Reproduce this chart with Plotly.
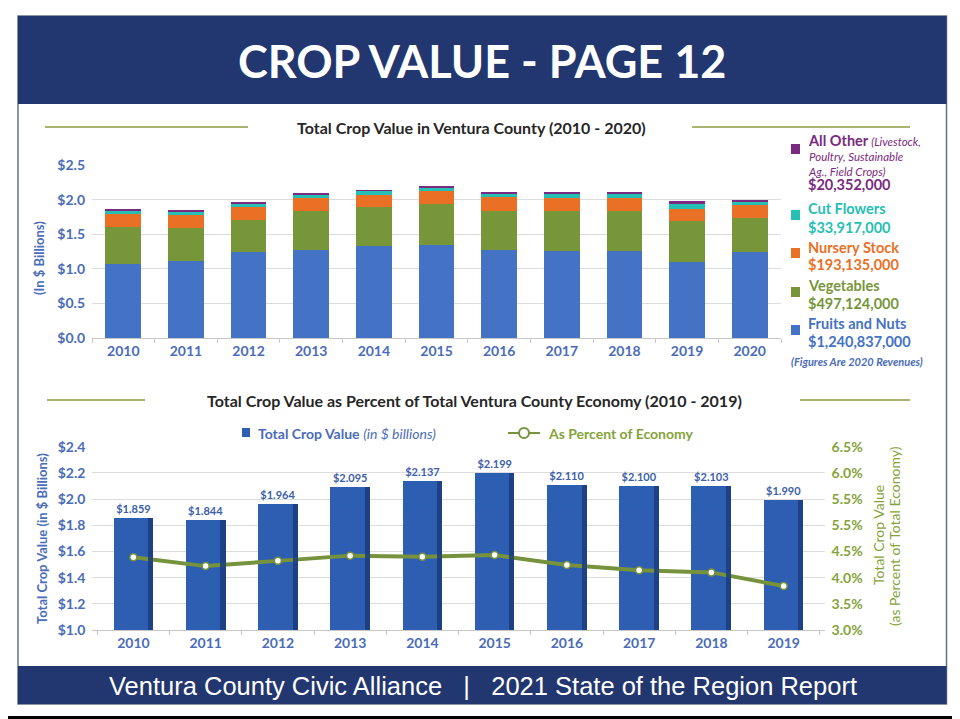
import plotly.graph_objects as go

W, H = 960, 719
OFF = 8  # the page puts the figure 8px in from the top-left corner

# ---------- data ----------
years_top = ['2010', '2011', '2012', '2013', '2014', '2015', '2016', '2017', '2018', '2019', '2020']
fruits_nuts = [1.071, 1.115, 1.250, 1.279, 1.337, 1.351, 1.279, 1.260, 1.255, 1.100, 1.241]
vegetables = [0.541, 0.482, 0.454, 0.555, 0.555, 0.589, 0.560, 0.579, 0.584, 0.599, 0.497]
nursery_stock = [0.183, 0.179, 0.188, 0.193, 0.183, 0.188, 0.198, 0.188, 0.193, 0.174, 0.193]
cut_flowers = [0.049, 0.053, 0.048, 0.048, 0.053, 0.044, 0.048, 0.058, 0.058, 0.067, 0.034]
all_other = [0.015, 0.015, 0.020, 0.015, 0.010, 0.019, 0.015, 0.015, 0.010, 0.048, 0.020]

legend_values = ['$20,352,000', '$33,917,000', '$193,135,000', '$497,124,000', '$1,240,837,000']

years_bottom = ['2010', '2011', '2012', '2013', '2014', '2015', '2016', '2017', '2018', '2019']
total_value = [1.859, 1.844, 1.964, 2.095, 2.137, 2.199, 2.110, 2.100, 2.103, 1.990]
pct_economy = [4.39, 4.22, 4.32, 4.42, 4.40, 4.43, 4.24, 4.14, 4.10, 3.84]

top_ticks = [0, 0.5, 1.0, 1.5, 2.0, 2.5]
left_ticks = [1.0, 1.2, 1.4, 1.6, 1.8, 2.0, 2.2, 2.4]
pct_tickvals = [3.0, 3.5, 4.0, 4.5, 5.0, 5.5, 6.0, 6.5]
pct_ticktext = ['3.0%', '3.5%', '4.0%', '4.5%', '5.5%', '5.5%', '6.0%', '6.5%']

# ---------- colours ----------
NAVY = '#22366f'
BLUE = '#4472c4'
GREEN = '#77963a'
ORANGE = '#ea7026'
TEAL = '#25bfb4'
PURPLE = '#7a2a80'
TXT_BLUE = '#4a6cb9'
BAR_BLUE = '#2d5eb2'
LINE_GREEN = '#76923c'
TICK_GREEN = '#84a33a'
TITLE_LINE = '#8a9c3e'
FONT = 'Lato, "Open Sans", sans-serif'
NB = '\u00a0'


# page pixel -> paper fraction
def fx(x):
    return (x - OFF) / W


def fy(y):
    return 1 - (y - OFF) / H


fig = go.Figure()

# ---------- top stacked bars ----------
series = [
    ('Fruits and Nuts', fruits_nuts, BLUE),
    ('Vegetables', vegetables, GREEN),
    ('Nursery Stock', nursery_stock, ORANGE),
    ('Cut Flowers', cut_flowers, TEAL),
    ('All Other', all_other, PURPLE),
]
for name, vals, col in series:
    fig.add_trace(go.Bar(x=years_top, y=vals, name=name, marker=dict(color=col, line=dict(width=0)),
                         width=0.57, xaxis='x', yaxis='y', showlegend=False))

# ---------- bottom bars + line ----------
fig.add_trace(go.Bar(x=years_bottom, y=total_value,
                     marker=dict(color=BAR_BLUE, line=dict(width=0)),
                     width=0.55, offset=-0.275, xaxis='x2', yaxis='y2', showlegend=False,
                     texttemplate='$%{y:.3f}', textposition='outside',
                     textfont=dict(family=FONT, size=11, color='#3d60aa', weight='bold'),
                     cliponaxis=False))
# darker right edge for the shaded look (own y axis so it does not stack)
fig.add_trace(go.Bar(x=years_bottom, y=total_value,
                     marker=dict(color='#1c3d7c', line=dict(width=0)), opacity=0.85,
                     width=0.07, offset=0.205, xaxis='x2', yaxis='y4', showlegend=False,
                     hoverinfo='skip'))
fig.add_trace(go.Scatter(x=years_bottom, y=pct_economy, mode='lines+markers',
                         line=dict(color=LINE_GREEN, width=4),
                         marker=dict(size=7, color='white', line=dict(color=LINE_GREEN, width=1.5)),
                         xaxis='x2', yaxis='y3', showlegend=False))

tickfont_blue = dict(family=FONT, size=14, color=TXT_BLUE, weight='bold')
bottom_dom = [fy(630), fy(446.7)]

fig.update_layout(
    width=W, height=H,
    template='none',
    margin=dict(l=0, r=0, t=0, b=0, pad=0, autoexpand=False),
    paper_bgcolor='white', plot_bgcolor='rgba(0,0,0,0)',
    barmode='stack',
    font=dict(family=FONT),
    xaxis=dict(domain=[fx(92), fx(781)], type='category', showgrid=False, automargin=False,
               showline=True, linecolor='#c8c8c8', linewidth=1,
               ticks='outside', tickson='boundaries', ticklen=4, tickcolor='#c8c8c8',
               tickfont=tickfont_blue, anchor='y'),
    yaxis=dict(domain=[fy(338), fy(165.3)], range=[0, 2.5], tickvals=top_ticks, automargin=False,
               tickformat='$.1f', tickfont=tickfont_blue, showgrid=True, ticks='',
               gridcolor='#dcdcdc', gridwidth=1, zeroline=False, showline=False,
               ticklabelstandoff=6, anchor='x'),
    xaxis2=dict(domain=[fx(92.4), fx(824.6)], type='category', showgrid=False, automargin=False,
                showline=True, linecolor='#c8c8c8', linewidth=1,
                ticks='outside', tickson='boundaries', ticklen=4, tickcolor='#c8c8c8',
                tickfont=tickfont_blue, anchor='y2'),
    yaxis2=dict(domain=bottom_dom, range=[1.0, 2.4], tickvals=left_ticks, automargin=False,
                tickformat='$.1f', tickfont=tickfont_blue, showgrid=True, ticks='',
                gridcolor='#dcdcdc', gridwidth=1, zeroline=False, showline=False,
                ticklabelstandoff=6, anchor='x2'),
    yaxis3=dict(domain=bottom_dom, range=[3.0, 6.5], overlaying='y2', side='right',
                tickvals=pct_tickvals, ticktext=pct_ticktext, showgrid=False, zeroline=False,
                automargin=False, ticks='', showline=False,
                tickfont=dict(family=FONT, size=14, color=TICK_GREEN, weight='bold'),
                ticklabelstandoff=6, anchor='x2'),
    yaxis4=dict(domain=bottom_dom, range=[1.0, 2.4], overlaying='y2', visible=False,
                automargin=False, anchor='x2'),
)

shapes = []
# outer frame
shapes.append(dict(type='rect', xref='paper', yref='paper', x0=fx(1.5), x1=fx(972), y0=fy(1.5), y1=fy(717.5),
                   line=dict(color='black', width=3), fillcolor='rgba(0,0,0,0)', layer='above'))
# content box border
shapes.append(dict(type='rect', xref='paper', yref='paper', x0=fx(18), x1=fx(946.5), y0=fy(16), y1=fy(704),
                   line=dict(color='#5f7382', width=1.5), fillcolor='rgba(0,0,0,0)', layer='below'))
# header and footer bands
shapes.append(dict(type='rect', xref='paper', yref='paper', x0=fx(18), x1=fx(946.5), y0=fy(16), y1=fy(104),
                   line=dict(width=0), fillcolor=NAVY, layer='below'))
shapes.append(dict(type='rect', xref='paper', yref='paper', x0=fx(18), x1=fx(946.5), y0=fy(666), y1=fy(704),
                   line=dict(width=0), fillcolor=NAVY, layer='below'))
# title side lines
for x0, x1, y in [(45, 248, 127), (692, 910, 127), (47, 145, 400), (800, 910, 400)]:
    shapes.append(dict(type='line', xref='paper', yref='paper', x0=fx(x0), x1=fx(x1), y0=fy(y), y1=fy(y),
                       line=dict(color=TITLE_LINE, width=1.5)))

annotations = []


def add_text(x, y, text, size, color, xanchor='center', angle=0, weight='normal', family=FONT):
    annotations.append(dict(xref='paper', yref='paper', x=fx(x), y=fy(y), text=text, showarrow=False,
                            xanchor=xanchor, yanchor='middle', textangle=angle, borderpad=0,
                            align='left' if xanchor == 'left' else 'center',
                            font=dict(family=family, size=size, color=color, weight=weight)))


add_text(482, 61, 'CROP VALUE - PAGE 12', 45, 'white', weight='bold')
add_text(483, 686, 'Ventura County Civic Alliance' + NB * 3 + '|' + NB * 3 + '2021 State of the Region Report',
         25.5, 'white', family='"Liberation Sans", Arial, sans-serif')

add_text(471, 127, 'Total Crop Value in Ventura County (2010 - 2020)', 16, '#262626', weight='bold')
add_text(474, 400, 'Total Crop Value as Percent of Total Ventura County Economy (2010 - 2019)', 16, '#262626',
         weight='bold')

# axis titles
add_text(39, 258, '(In $ Billions)', 13, TXT_BLUE, angle=-90, weight='bold')
add_text(42, 539, 'Total Crop Value (in $ Billions)', 13, TXT_BLUE, angle=-90, weight='bold')
add_text(878, 535, 'Total Crop Value', 14, TICK_GREEN, angle=-90)
add_text(894, 536, '(as Percent of Total Economy)', 14, TICK_GREEN, angle=-90)

# top legend (custom block)
add_text(807, 155, '<span style="font-size:14.5px"><b>All Other</b></span> <i>(Livestock,</i><br>'
         '<i>Poultry, Sustainable</i><br><i>Ag., Field Crops)</i>', 11.5, PURPLE, xanchor='left')
legend_rows = [
    (PURPLE, 149, [(185, '<b>' + legend_values[0] + '</b>')]),
    (TEAL, 215, [(209, '<b>Cut Flowers</b>'), (227, '<b>' + legend_values[1] + '</b>')]),
    (ORANGE, 253, [(247, '<b>Nursery Stock</b>'), (265, '<b>' + legend_values[2] + '</b>')]),
    (GREEN, 292, [(285, '<b>Vegetables</b>'), (303, '<b>' + legend_values[3] + '</b>')]),
    (BLUE, 330, [(323, '<b>Fruits and Nuts</b>'), (341, '<b>' + legend_values[4] + '</b>')]),
]
for col, sq_y, lines in legend_rows:
    shapes.append(dict(type='rect', xref='paper', yref='paper', x0=fx(791), x1=fx(800),
                       y0=fy(sq_y - 5), y1=fy(sq_y + 5), line=dict(width=0), fillcolor=col))
    for y, t in lines:
        add_text(807, y, t, 14.5, col, xanchor='left')
add_text(857, 362, '<i>(Figures Are 2020 Revenues)</i>', 11, TXT_BLUE, weight='bold')

# bottom legend
shapes.append(dict(type='rect', xref='paper', yref='paper', x0=fx(242), x1=fx(250), y0=fy(428), y1=fy(437),
                   line=dict(width=0), fillcolor=BAR_BLUE))
add_text(257, 433, '<b>Total Crop Value</b> <i>(in $ billions)</i>', 14, TXT_BLUE, xanchor='left')
shapes.append(dict(type='line', xref='paper', yref='paper', x0=fx(508), x1=fx(540), y0=fy(433), y1=fy(433),
                   line=dict(color=LINE_GREEN, width=2)))
shapes.append(dict(type='circle', xref='paper', yref='paper', x0=fx(519), x1=fx(529), y0=fy(428), y1=fy(438),
                   line=dict(color=LINE_GREEN, width=2), fillcolor='white'))
add_text(547, 433, '<b>As Percent of Economy</b>', 14, TICK_GREEN, xanchor='left')

fig.update_layout(shapes=shapes, annotations=annotations)

fig.write_html("out.html")
